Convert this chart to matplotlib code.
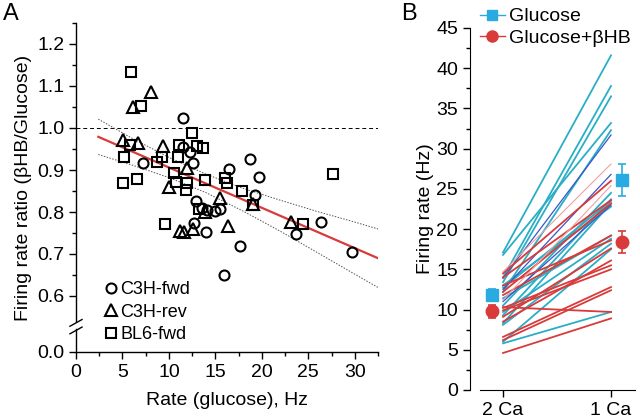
import numpy as np
import matplotlib
matplotlib.use('Agg')
import matplotlib.pyplot as plt
from matplotlib.lines import Line2D
import matplotlib.transforms as mtransforms

plt.rcParams['font.family'] = ['Liberation Sans', 'DejaVu Sans']

# ---- panel A data: rate (glucose, Hz) vs firing rate ratio ----
c3h_fwd_x = [11.5, 7.2, 11.5, 12.3, 12.6, 16.5, 18.7, 19.7, 19.3, 12.9, 13.6, 14.1,
             15.0, 15.5, 12.7, 14.0, 17.6, 15.9, 23.7, 26.4, 29.7]
c3h_fwd_y = [1.024, 0.916, 0.955, 0.943, 0.916, 0.902, 0.926, 0.883, 0.840, 0.826, 0.810, 0.805,
             0.802, 0.808, 0.773, 0.752, 0.720, 0.650, 0.748, 0.777, 0.705]
c3h_rev_x = [6.15, 8.1, 5.1, 6.7, 9.4, 11.9, 10.0, 15.5, 19.1, 11.2, 11.6, 12.6, 16.4, 23.1, 13.9]
c3h_rev_y = [1.050, 1.086, 0.972, 0.964, 0.957, 0.905, 0.860, 0.833, 0.820, 0.755, 0.752, 0.760,
             0.767, 0.777, 0.800]
bl6_fwd_x = [5.9, 7.0, 12.5, 5.8, 5.2, 8.7, 9.3, 11.1, 13.0, 13.7, 11.0, 10.5, 5.1, 6.6, 10.8,
             11.9, 11.8, 13.9, 16.0, 16.2, 17.9, 19.1, 27.7, 9.6, 24.4, 13.2]
bl6_fwd_y = [1.133, 1.052, 0.988, 0.960, 0.930, 0.920, 0.930, 0.960, 0.957, 0.952, 0.930, 0.893,
             0.870, 0.878, 0.871, 0.869, 0.852, 0.876, 0.880, 0.869, 0.850, 0.816, 0.890, 0.771,
             0.771, 0.807]

# regression line and confidence band
fit_x = [2.4, 32.6]
fit_y = [0.979, 0.689]
band_x = [2.4, 6, 10, 14, 18, 22, 26, 30, 32.6]
band_hi = [1.021, 0.976, 0.930, 0.890, 0.856, 0.828, 0.801, 0.776, 0.759]
band_lo = [0.937, 0.912, 0.882, 0.846, 0.802, 0.754, 0.703, 0.652, 0.619]

# ---- panel B data: firing rate (Hz) at 2 Ca and 1 Ca ----
cyan_2ca = [17.1, 16.8, 14.0, 13.4, 12.2, 10.5, 9.3, 8.3, 12.7, 9.7, 8.1, 6.0, 5.8, 11.4, 13.0]
cyan_1ca = [41.6, 33.2, 37.8, 36.5, 32.3, 24.5, 23.7, 23.2, 23.5, 18.8, 18.2, 17.5, 9.7, 19.2, 22.8]
blue_2ca = [13.9, 12.5, 11.0]
blue_1ca = [31.7, 26.8, 23.0]
red_2ca = [14.5, 14.0, 12.2, 11.8, 13.0, 10.3, 9.1, 8.5, 10.2, 6.6, 6.2, 4.6, 9.9]
red_1ca = [26.0, 23.6, 23.2, 19.2, 18.6, 9.7, 17.6, 16.1, 15.5, 12.8, 12.4, 8.9, 15.0]
pink_2ca = [14.7, 11.2]
pink_1ca = [28.1, 25.4]

gluc_mean = [11.8, 26.1]
gluc_err = [0.7, 1.95]
bhb_mean = [9.8, 18.4]
bhb_err = [0.8, 1.4]

conditions = ['2 Ca', '1 Ca']

CYAN = '#2aaec6'
BLUE = '#3a55c8'
RED = '#d93a3a'
PINK = '#e8a3a3'
SQ = '#29abe2'

fig = plt.figure(figsize=(6.4, 4.18), dpi=100)

# ================= panel A =================
axA = fig.add_axes([76/640, 66/418, 302/640, 329/418])
Y0 = 0.6 - 56/420  # position where "0.0" sits (broken axis)

axA.axhline(1.0, color='black', lw=0.7, ls=(0, (4, 3)), zorder=1)
axA.plot(band_x, band_hi, color='#555555', lw=0.7, ls=(0, (1.5, 1.5)), zorder=1)
axA.plot(band_x, band_lo, color='#555555', lw=0.7, ls=(0, (1.5, 1.5)), zorder=1)
axA.plot(fit_x, fit_y, color=RED, lw=1.6, zorder=2)

mk = dict(linestyle='none', mfc='none', mec='black', mew=1.5, zorder=3)
axA.plot(c3h_fwd_x, c3h_fwd_y, marker='o', ms=7.2, label='C3H-fwd', **mk)
axA.plot(c3h_rev_x, c3h_rev_y, marker='^', ms=8, label='C3H-rev', **mk)
axA.plot(bl6_fwd_x, bl6_fwd_y, marker='s', ms=6.5, label='BL6-fwd', **mk)

axA.set_xlim(0, 32.5)
axA.set_ylim(Y0, 1.25)
axA.set_xticks(np.arange(0, 31, 5))
axA.set_xticks(np.arange(2.5, 33, 5), minor=True)
yt = [Y0, 0.6, 0.7, 0.8, 0.9, 1.0, 1.1, 1.2]
axA.set_yticks(yt)
axA.set_yticklabels(['0.0', '0.6', '0.7', '0.8', '0.9', '1.0', '1.1', '1.2'])
axA.set_yticks(np.arange(0.65, 1.26, 0.1), minor=True)
axA.tick_params(which='major', length=5, width=1, labelsize=14)
axA.tick_params(which='minor', length=3, width=1)
for s in ['top', 'right', 'left']:
    axA.spines[s].set_visible(False)
axA.spines['bottom'].set_linewidth(1)

# left spine with a break between 0.0 and 0.6
tr = mtransforms.blended_transform_factory(axA.transAxes, axA.transData)
axA.plot([0, 0], [Y0, 0.522], color='black', lw=1, transform=tr, clip_on=False)
axA.plot([0, 0], [0.540, 1.25], color='black', lw=1, transform=tr, clip_on=False)
for yb in [0.518, 0.536]:
    axA.plot([-0.02, 0.02], [yb - 0.008, yb + 0.008], color='black', lw=1,
             transform=tr, clip_on=False)

axA.set_xlabel('Rate (glucose), Hz', fontsize=14, labelpad=8)
axA.set_ylabel('Firing rate ratio (\u03b2HB/Glucose)', fontsize=14, labelpad=4)
axA.legend(loc='lower left', bbox_to_anchor=(0.055, 0.0), frameon=False, fontsize=13,
           handletextpad=0.05, labelspacing=0.3, borderaxespad=0.1, handlelength=1.0)

# ================= panel B =================
axB = fig.add_axes([470/640, 28/418, 165/640, 362/418])
for l, r in zip(cyan_2ca, cyan_1ca):
    axB.plot([0, 1], [l, r], color=CYAN, lw=1.3, zorder=2)
for l, r in zip(blue_2ca, blue_1ca):
    axB.plot([0, 1], [l, r], color=BLUE, lw=0.9, zorder=3)
for l, r in zip(red_2ca, red_1ca):
    axB.plot([0, 1], [l, r], color=RED, lw=1.3, zorder=3)
for l, r in zip(pink_2ca, pink_1ca):
    axB.plot([0, 1], [l, r], color=PINK, lw=0.8, zorder=3)

mx = [-0.1, 1.1]
axB.errorbar(mx, gluc_mean, yerr=gluc_err, fmt='s', color=SQ, ms=8, capsize=3,
             elinewidth=1.2, capthick=1.2, zorder=4)
axB.errorbar(mx, bhb_mean, yerr=bhb_err, fmt='o', color=RED, ms=9, capsize=3,
             elinewidth=1.2, capthick=1.2, zorder=5)

axB.set_xlim(-0.306, 1.222)
axB.set_ylim(0, 45)
axB.set_xticks([0, 1])
axB.set_xticklabels(conditions)
axB.set_yticks(np.arange(0, 46, 5))
axB.set_yticks(np.arange(2.5, 45, 5), minor=True)
axB.tick_params(which='major', length=5, width=1, labelsize=14)
axB.tick_params(which='minor', length=3, width=1)
axB.spines['top'].set_visible(False)
axB.spines['right'].set_visible(False)
axB.spines['bottom'].set_bounds(-0.213, 1.222)
axB.set_ylabel('Firing rate (Hz)', fontsize=14, labelpad=2)

handles = [Line2D([], [], color=SQ, lw=1, marker='s', ms=7),
           Line2D([], [], color=RED, lw=1, marker='o', ms=8)]
fig.legend(handles, ['Glucose', 'Glucose+\u03b2HB'], loc='upper left',
           bbox_to_anchor=(472/640, 1.0), frameon=False, fontsize=14,
           handlelength=1.3, handletextpad=0.2, labelspacing=0.22, borderaxespad=0.0)

fig.text(3/640, 1 - 3/418, 'A', fontsize=17, va='top', ha='left')
fig.text(401/640, 1 - 3/418, 'B', fontsize=17, va='top', ha='left')

fig.savefig('out.png', dpi=100)
